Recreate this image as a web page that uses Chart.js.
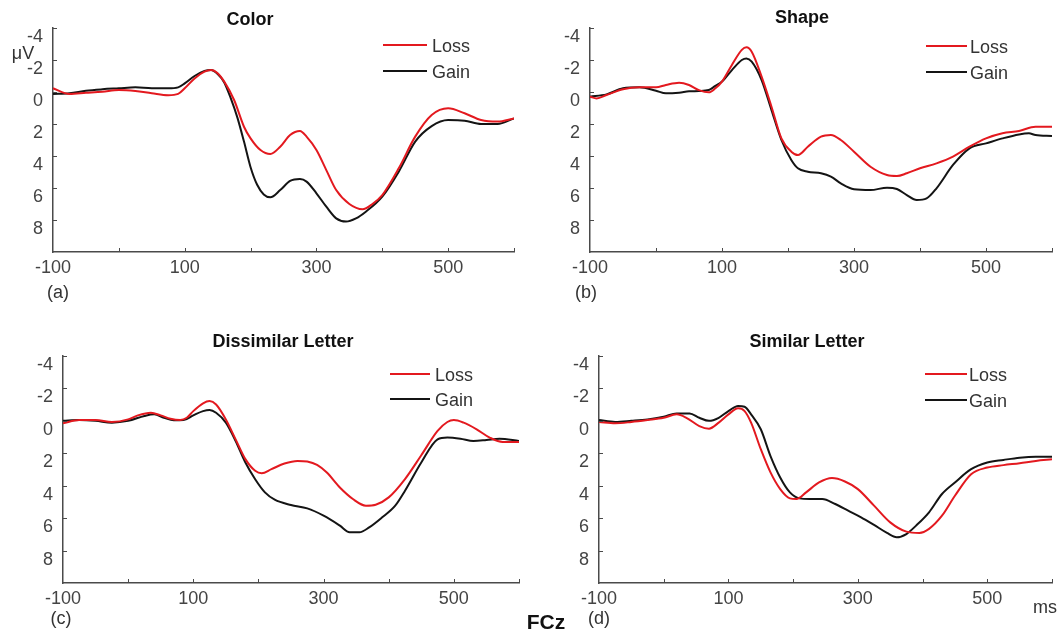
<!DOCTYPE html>
<html>
<head>
<meta charset="utf-8">
<script src="https://cdn.jsdelivr.net/npm/chart.js@4.4.1/dist/chart.umd.min.js"></script>
<style>
    body { margin: 0; background: #fff; width: 1062px; height: 632px; position: relative; overflow: hidden;
           font-family: "Liberation Sans", Arial, sans-serif; }
    canvas { position: absolute; }
    .lbl { position: absolute; white-space: nowrap; color: #333; font-size: 18px; line-height: 1;
           transform: translate(-50%, -50%); }
    .ttl { font-weight: bold; color: #111; }
</style>
</head>
<body>
<canvas id="pa" width="531" height="316" style="left:0;top:0"></canvas>
<canvas id="pb" width="531" height="316" style="left:531px;top:0"></canvas>
<canvas id="pc" width="531" height="316" style="left:0;top:316px"></canvas>
<canvas id="pd" width="531" height="316" style="left:531px;top:316px"></canvas>

<div class="lbl ttl" style="left:250px;top:19px">Color</div>
<div class="lbl ttl" style="left:802px;top:17px">Shape</div>
<div class="lbl ttl" style="left:283px;top:341px">Dissimilar Letter</div>
<div class="lbl ttl" style="left:807px;top:341px">Similar Letter</div>
<div class="lbl" style="left:23px;top:53px">μV</div>
<div class="lbl" style="left:58px;top:292px">(a)</div>
<div class="lbl" style="left:586px;top:292px">(b)</div>
<div class="lbl" style="left:61px;top:618px">(c)</div>
<div class="lbl" style="left:599px;top:618px">(d)</div>
<div class="lbl ttl" style="left:546px;top:621px;font-size:21px">FCz</div>
<div class="lbl" style="left:1045px;top:607px">ms</div>

<script>
// Time (ms) and amplitude (μV) samples; y axis is inverted (negative up)
const colorLossT = [-100,-75,-50,-25,0,25,50,75,90,100,115,130,140,150,160,175,190,200,215,230,245,260,275,285,300,315,330,350,370,385,400,425,450,475,500,525,550,575,600];
const colorLossV = [-0.23,0.12,0.05,-0.02,-0.12,-0.06,0.08,0.2,0.12,-0.23,-0.85,-1.27,-1.37,-1.17,-0.65,0.5,2.17,2.9,3.63,3.88,3.42,2.69,2.44,2.79,3.63,4.88,6.13,7.0,7.33,7.0,6.44,4.77,2.79,1.44,1.02,1.33,1.75,1.85,1.65];
const colorGainT = [-100,-75,-50,-25,0,25,50,75,90,100,115,130,140,150,160,170,180,190,200,210,220,230,245,260,275,285,300,315,330,345,360,375,400,425,450,475,500,525,550,575,600];
const colorGainV = [0.12,0.08,-0.08,-0.17,-0.23,-0.29,-0.23,-0.23,-0.29,-0.54,-1.0,-1.31,-1.37,-1.12,-0.6,0.4,1.6,3.1,4.7,5.8,6.4,6.58,6.13,5.56,5.44,5.6,6.33,7.17,7.9,8.1,7.9,7.48,6.54,4.98,3.1,2.13,1.75,1.79,2.0,2.0,1.65];

const shapeLossT = [-100,-90,-75,-50,-25,0,15,35,50,65,80,90,100,115,130,137,145,160,175,190,205,215,230,250,265,280,300,325,350,365,380,400,425,450,475,500,525,550,575,600];
const shapeLossV = [0.29,0.4,0.19,-0.17,-0.29,-0.29,-0.44,-0.58,-0.44,-0.12,0.02,-0.23,-0.65,-1.69,-2.63,-2.79,-2.52,-0.96,0.92,2.9,3.73,3.94,3.42,2.79,2.69,3.0,3.73,4.67,5.19,5.25,5.08,4.77,4.46,4.04,3.42,2.9,2.58,2.44,2.17,2.17];
const shapeGainT = [-100,-75,-50,-25,0,15,35,50,65,80,90,100,115,130,137,145,160,175,190,205,215,230,250,265,280,300,325,350,365,380,395,410,425,450,475,500,525,550,565,575,600];
const shapeGainV = [0.29,0.15,-0.23,-0.29,-0.08,0.08,0.04,-0.04,-0.06,-0.12,-0.38,-0.65,-1.37,-2.0,-2.1,-1.9,-0.75,1.13,3.0,4.25,4.77,4.98,5.08,5.29,5.71,6.08,6.13,5.98,6.06,6.44,6.75,6.65,6.02,4.56,3.52,3.21,2.9,2.65,2.58,2.69,2.75];

const dissLossT = [-100,-75,-50,-25,0,15,35,50,65,80,90,100,115,125,135,150,165,180,195,205,220,240,260,275,290,305,325,345,365,380,400,425,450,475,490,500,515,535,555,575,600];
const dissLossV = [0.15,-0.05,-0.05,0.07,-0.09,-0.34,-0.5,-0.34,-0.13,-0.05,-0.19,-0.6,-1.08,-1.22,-1.01,-0.09,1.14,2.36,3.08,3.23,2.98,2.63,2.47,2.51,2.72,3.19,4.11,4.82,5.23,5.17,4.72,3.59,2.12,0.62,0.07,-0.05,0.11,0.52,1.03,1.3,1.3];
const dissGainT = [-100,-75,-50,-25,0,25,40,55,70,85,100,115,125,135,150,165,180,195,210,225,250,275,300,325,340,355,370,390,410,425,450,475,490,510,530,550,570,600];
const dissGainV = [0,-0.05,0,0.11,0,-0.3,-0.4,-0.19,-0.03,-0.05,-0.34,-0.6,-0.67,-0.5,0.11,1.24,2.57,3.6,4.41,4.86,5.19,5.4,5.85,6.46,6.87,6.87,6.57,5.95,5.23,4.31,2.57,1.14,1.03,1.1,1.24,1.18,1.1,1.24];

const simLossT = [-100,-75,-50,-25,0,20,35,55,70,85,100,115,125,135,150,165,180,195,205,220,240,260,280,300,325,350,375,395,410,430,450,475,500,525,550,575,600];
const simLossV = [0.07,0.15,0.07,-0.05,-0.19,-0.4,-0.19,0.32,0.48,0.11,-0.4,-0.77,-0.6,0.11,1.75,3.18,4.21,4.78,4.82,4.41,3.8,3.53,3.74,4.21,5.23,6.26,6.83,6.91,6.66,5.85,4.62,3.29,2.88,2.73,2.61,2.47,2.37];
const simGainT = [-100,-75,-50,-25,0,20,40,55,70,85,100,115,125,135,150,165,180,195,210,225,245,265,285,305,325,345,360,375,390,410,430,450,475,500,525,550,575,600];
const simGainV = [-0.05,0.07,0,-0.09,-0.26,-0.46,-0.46,-0.19,0,-0.19,-0.6,-0.92,-0.87,-0.4,0.52,2.17,3.49,4.41,4.78,4.82,4.82,5.13,5.54,5.95,6.42,6.91,7.18,6.98,6.46,5.64,4.51,3.8,2.98,2.57,2.41,2.27,2.21,2.21];

const xLabels = [-100, 100, 300, 500];
const seriesNames = ['Loss', 'Gain'];

const RED = '#e3191f';
const BLACK = '#141414';
const AXIS = '#4a4a4a';

Chart.defaults.font.family = '"Liberation Sans", Arial, sans-serif';
Chart.defaults.color = '#444';

const pts = (T, V) => T.map((t, i) => ({ x: t, y: V[i] }));

// inward tick marks + small two-line legend
const erpDecor = {
    id: 'erpDecor',
    afterDraw(chart, args, opts) {
        const { ctx, chartArea: a, scales: { x, y } } = chart;
        ctx.save();
        ctx.strokeStyle = AXIS;
        ctx.lineWidth = 1;
        ctx.beginPath();
        x.ticks.forEach(t => {
            if (t.value === x.min) return;
            const px = Math.round(x.getPixelForValue(t.value)) + 0.5;
            ctx.moveTo(px, a.bottom);
            ctx.lineTo(px, a.bottom - 4);
        });
        y.ticks.forEach(t => {
            if (t.value === y.max) return;
            const py = Math.round(y.getPixelForValue(t.value)) + 0.5;
            ctx.moveTo(a.left, py);
            ctx.lineTo(a.left + 4, py);
        });
        ctx.stroke();

        ctx.font = '18px "Liberation Sans", Arial, sans-serif';
        ctx.textBaseline = 'middle';
        ctx.fillStyle = '#333';
        chart.data.datasets.forEach((ds, i) => {
            const ly = opts.ly[i];
            ctx.strokeStyle = ds.borderColor;
            ctx.lineWidth = 2;
            ctx.beginPath();
            ctx.moveTo(opts.x1, ly);
            ctx.lineTo(opts.x2, ly);
            ctx.stroke();
            ctx.fillText(ds.label, opts.tx, ly + 2);
        });
        ctx.restore();
    }
};

function makeChart(id, lossT, lossV, gainT, gainV, g) {
    new Chart(document.getElementById(id), {
        type: 'scatter',
        data: {
            datasets: [
                { label: seriesNames[0], data: pts(lossT, lossV), showLine: true, borderColor: RED,
                  borderWidth: 2, pointRadius: 0, cubicInterpolationMode: 'monotone' },
                { label: seriesNames[1], data: pts(gainT, gainV), showLine: true, borderColor: BLACK,
                  borderWidth: 2, pointRadius: 0, cubicInterpolationMode: 'monotone' }
            ]
        },
        options: {
            responsive: false,
            animation: false,
            layout: { padding: { top: g.top, right: 531 - g.right, left: 0, bottom: 0 } },
            plugins: {
                legend: { display: false },
                tooltip: { enabled: false },
                erpDecor: g.legend
            },
            scales: {
                x: {
                    type: 'linear', min: -100, max: 600,
                    grid: { display: true, drawOnChartArea: false, drawTicks: false },
                    border: { display: true, color: AXIS, width: 1.5 },
                    ticks: {
                        stepSize: 100, autoSkip: false, maxRotation: 0, padding: 5,
                        font: { size: 18 },
                        callback: v => xLabels.includes(v) ? String(v) : ''
                    },
                    afterFit: s => { s.height = 316 - g.bottom; }
                },
                y: {
                    type: 'linear', min: -4, max: 10, reverse: true,
                    grid: { display: true, drawOnChartArea: false, drawTicks: false },
                    border: { display: true, color: AXIS, width: 1.5 },
                    ticks: {
                        stepSize: 2, padding: 10, labelOffset: 9,
                        font: { size: 18 },
                        callback: v => v === 10 ? '' : String(v)
                    },
                    afterFit: s => { s.width = g.left; }
                }
            }
        },
        plugins: [erpDecor]
    });
}

makeChart('pa', colorLossT, colorLossV, colorGainT, colorGainV,
    { left: 53, right: 514, top: 28, bottom: 252, legend: { x1: 383, x2: 427, ly: [45, 71], tx: 432 } });
makeChart('pb', shapeLossT, shapeLossV, shapeGainT, shapeGainV,
    { left: 59, right: 521, top: 28, bottom: 252, legend: { x1: 395, x2: 436, ly: [46, 72], tx: 439 } });
makeChart('pc', dissLossT, dissLossV, dissGainT, dissGainV,
    { left: 63, right: 519, top: 40, bottom: 267, legend: { x1: 390, x2: 430, ly: [58, 83], tx: 435 } });
makeChart('pd', simLossT, simLossV, simGainT, simGainV,
    { left: 68, right: 521, top: 40, bottom: 267, legend: { x1: 394, x2: 436, ly: [58, 84], tx: 438 } });
</script>
</body>
</html>
